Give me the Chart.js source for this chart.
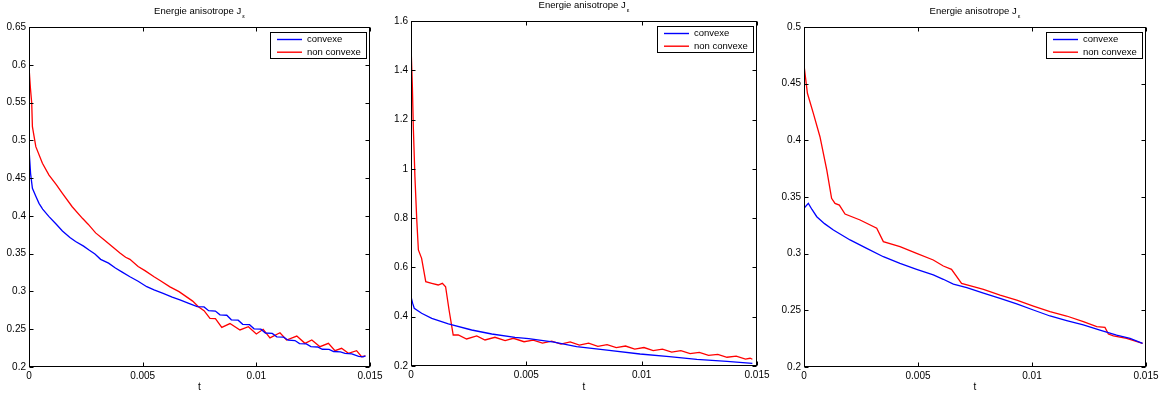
<!DOCTYPE html>
<html><head><meta charset="utf-8">
<script src="https://cdn.jsdelivr.net/npm/chart.js@4.4.0/dist/chart.umd.min.js"></script>
<style>
html,body{margin:0;padding:0;background:#fff;width:1159px;height:396px;overflow:hidden;position:relative}
canvas{position:absolute;top:0}
</style></head><body>
<canvas id="c1"></canvas><canvas id="c2"></canvas><canvas id="c3"></canvas>
<script>
// ---- data (t, J) ----
const seriesLabels = ['convexe', 'non convexe'];
const titleMain = 'Energie anisotrope J';
const titleSub = 'ε';
const xTitle = 't';
const xTicks = [0, 0.005, 0.01, 0.015];
const xTickLabels = ['0', '0.005', '0.01', '0.015'];

const yTicks1 = [0.2, 0.25, 0.3, 0.35, 0.4, 0.45, 0.5, 0.55, 0.6, 0.65];
const yTickLabels1 = ['0.2', '0.25', '0.3', '0.35', '0.4', '0.45', '0.5', '0.55', '0.6', '0.65'];
const yTicks2 = [0.2, 0.4, 0.6, 0.8, 1, 1.2, 1.4, 1.6];
const yTickLabels2 = ['0.2', '0.4', '0.6', '0.8', '1', '1.2', '1.4', '1.6'];
const yTicks3 = [0.2, 0.25, 0.3, 0.35, 0.4, 0.45, 0.5];
const yTickLabels3 = ['0.2', '0.25', '0.3', '0.35', '0.4', '0.45', '0.5'];

const convexe1 = [[0,0.489],[0.00007,0.456],[0.00015,0.4365],[0.0003,0.426],[0.00044,0.4166],[0.0006,0.409],[0.00088,0.399],[0.0012,0.389],[0.00147,0.380],[0.0018,0.3715],[0.00205,0.366],[0.0024,0.360],[0.00264,0.3548],[0.0029,0.3495],[0.00315,0.3425],[0.0035,0.3375],[0.0038,0.331],[0.0041,0.3255],[0.00444,0.3195],[0.0048,0.3135],[0.00518,0.3063],[0.0055,0.302],[0.0059,0.2975],[0.0063,0.2925],[0.00664,0.2887],[0.0070,0.2845],[0.0074,0.2798],[0.0077,0.2795],[0.0079,0.2745],[0.0082,0.2740],[0.0084,0.2690],[0.0087,0.2685],[0.0089,0.2625],[0.0092,0.2620],[0.0094,0.2565],[0.0097,0.2560],[0.0099,0.2505],[0.0102,0.2500],[0.0104,0.2450],[0.0107,0.2445],[0.0109,0.2400],[0.0112,0.2395],[0.0114,0.2355],[0.0117,0.2350],[0.0119,0.2310],[0.0122,0.2305],[0.0124,0.2270],[0.0127,0.2265],[0.0129,0.2235],[0.0132,0.2232],[0.0134,0.2205],[0.0137,0.2200],[0.0139,0.2180],[0.0142,0.2175],[0.0145,0.2140],[0.0147,0.2135],[0.0148,0.2146]];
const nonConvexe1 = [[0,0.5974],[0.00006,0.57],[0.00012,0.549],[0.00015,0.518],[0.0003,0.4916],[0.00059,0.4696],[0.00088,0.454],[0.0012,0.4415],[0.00147,0.4299],[0.0019,0.4121],[0.00235,0.3968],[0.0026,0.389],[0.00293,0.3775],[0.0033,0.3685],[0.00367,0.3592],[0.004,0.351],[0.00425,0.3452],[0.00444,0.3425],[0.0048,0.333],[0.0051,0.3275],[0.0055,0.3195],[0.0058,0.3138],[0.0062,0.306],[0.0066,0.2998],[0.0069,0.2935],[0.0072,0.2872],[0.00745,0.2798],[0.0077,0.2745],[0.00796,0.2644],[0.0082,0.264],[0.00848,0.2525],[0.00884,0.2575],[0.00928,0.249],[0.00965,0.2533],[0.01,0.2437],[0.0103,0.2499],[0.0106,0.2385],[0.01104,0.2454],[0.01133,0.2357],[0.01178,0.241],[0.01214,0.2313],[0.01244,0.2357],[0.0128,0.2269],[0.01317,0.2313],[0.01346,0.2216],[0.01375,0.2247],[0.01405,0.2181],[0.01441,0.2216],[0.01463,0.2136],[0.0148,0.2146]];

const convexe2 = [[0,0.4813],[0.00007,0.455],[0.00014,0.4342],[0.00046,0.4139],[0.0009,0.3936],[0.00162,0.3705],[0.00263,0.3461],[0.0035,0.3299],[0.00451,0.3164],[0.0051,0.311],[0.0062,0.2965],[0.00718,0.2783],[0.0085,0.264],[0.00993,0.2487],[0.0112,0.238],[0.01239,0.2272],[0.0137,0.219],[0.0148,0.211]];
const nonConvexe2 = [[0,1.503],[0.00006,1.333],[0.0001,1.171],[0.00017,0.968],[0.00025,0.7925],[0.00032,0.6708],[0.00046,0.637],[0.00064,0.542],[0.0009,0.5356],[0.00118,0.5287],[0.00136,0.5356],[0.0015,0.5218],[0.00165,0.4273],[0.00183,0.3258],[0.00205,0.3258],[0.00241,0.3096],[0.00285,0.3218],[0.00321,0.3055],[0.00364,0.3165],[0.00408,0.3027],[0.00444,0.3124],[0.0049,0.2985],[0.0053,0.305],[0.0057,0.293],[0.0061,0.301],[0.0065,0.289],[0.0069,0.2975],[0.0073,0.285],[0.0077,0.2925],[0.0081,0.28],[0.0085,0.287],[0.0089,0.2748],[0.0093,0.281],[0.0097,0.2686],[0.0101,0.275],[0.0105,0.2625],[0.0109,0.2685],[0.0113,0.2563],[0.0117,0.262],[0.0121,0.25],[0.0125,0.2555],[0.0129,0.243],[0.0133,0.2475],[0.0137,0.2355],[0.0141,0.24],[0.0145,0.228],[0.0147,0.2315],[0.0148,0.2275]];

const convexe3 = [[0,0.34],[0.00019,0.3444],[0.00035,0.339],[0.00056,0.3326],[0.0009,0.3265],[0.00129,0.3209],[0.00202,0.3121],[0.00275,0.3047],[0.00348,0.2973],[0.00421,0.2915],[0.00494,0.2862],[0.00567,0.2812],[0.00611,0.2774],[0.00655,0.2732],[0.00714,0.2701],[0.00787,0.2652],[0.0086,0.2606],[0.00933,0.2556],[0.01006,0.2503],[0.01079,0.245],[0.01152,0.2409],[0.01225,0.2371],[0.01298,0.2326],[0.01371,0.2282],[0.0143,0.2253],[0.01485,0.2209]];
const nonConvexe3 = [[0,0.4665],[0.00015,0.4415],[0.00041,0.4238],[0.0007,0.4032],[0.001,0.3738],[0.00121,0.3488],[0.00136,0.3444],[0.00155,0.3429],[0.0018,0.335],[0.00246,0.3297],[0.00319,0.3224],[0.00348,0.3106],[0.00421,0.3062],[0.00494,0.3003],[0.00567,0.2944],[0.00611,0.2891],[0.00647,0.2862],[0.00691,0.2738],[0.00743,0.2709],[0.00787,0.2685],[0.0086,0.2635],[0.00933,0.2591],[0.01006,0.2538],[0.01079,0.2488],[0.01152,0.245],[0.01225,0.24],[0.01284,0.2356],[0.0132,0.235],[0.01335,0.2291],[0.01357,0.2274],[0.01415,0.2253],[0.01485,0.2209]];

// ---- layout ----
const FONT = '"Liberation Sans", Arial, Helvetica, sans-serif';
const CW = 400, CH = 396;
const panels = [
  {id:'c1', conv:convexe1, nonc:nonConvexe1, yTicks:yTicks1, yLabels:yTickLabels1, yMin:0.2, yMax:0.65, g:{cl:0,   pl:29,  pr:370,  pt:27, pb:367}},
  {id:'c2', conv:convexe2, nonc:nonConvexe2, yTicks:yTicks2, yLabels:yTickLabels2, yMin:0.2, yMax:1.6,  g:{cl:385, pl:411, pr:757,  pt:21, pb:366}},
  {id:'c3', conv:convexe3, nonc:nonConvexe3, yTicks:yTicks3, yLabels:yTickLabels3, yMin:0.2, yMax:0.5,  g:{cl:775, pl:804, pr:1146, pt:27, pb:367}}
];

const matlabPlugin = {
  id: 'matlabDecor',
  afterDraw(chart) {
    const ctx = chart.ctx, a = chart.chartArea, xs = chart.scales.x, ys = chart.scales.y;
    ctx.save();
    ctx.strokeStyle = '#000'; ctx.lineWidth = 1;
    const L = Math.round(a.left) + 0.5, R = Math.round(a.right) - 0.5;
    const T = Math.round(a.top) + 0.5, B = Math.round(a.bottom) - 0.5;
    ctx.strokeRect(L, T, R - L, B - T);
    ctx.beginPath();
    xs.ticks.forEach(t => {
      const x = Math.round(xs.getPixelForValue(t.value)) + 0.5;
      ctx.moveTo(x, B); ctx.lineTo(x, B - 4);
      ctx.moveTo(x, T); ctx.lineTo(x, T + 4);
    });
    ys.ticks.forEach(t => {
      const y = Math.round(ys.getPixelForValue(t.value)) + 0.5;
      ctx.moveTo(L, y); ctx.lineTo(L + 4, y);
      ctx.moveTo(R, y); ctx.lineTo(R - 4, y);
    });
    ctx.stroke();

    // title with subscript
    ctx.fillStyle = '#000'; ctx.textAlign = 'left'; ctx.textBaseline = 'alphabetic';
    ctx.font = '9.5px ' + FONT;
    const w1 = ctx.measureText(titleMain).width;
    ctx.font = '6px ' + FONT;
    const w2 = ctx.measureText(titleSub).width;
    const cx = (a.left + a.right) / 2, x0 = cx - (w1 + w2 + 1) / 2, by = a.top - 13;
    ctx.font = '9.5px ' + FONT; ctx.fillText(titleMain, x0, by);
    ctx.font = '6px ' + FONT; ctx.fillText(titleSub, x0 + w1 + 1, by + 3.5);

    // legend box
    const bw = 96, bh = 26;
    const bx = Math.round(a.right) - 4 - bw, bt = Math.round(a.top) + 5;
    ctx.fillStyle = '#fff'; ctx.fillRect(bx, bt, bw, bh);
    ctx.strokeStyle = '#000'; ctx.lineWidth = 1; ctx.strokeRect(bx + 0.5, bt + 0.5, bw, bh);
    ctx.font = '9.5px ' + FONT; ctx.textBaseline = 'middle';
    chart.data.datasets.forEach((ds, i) => {
      const y = bt + 7.5 + i * 12.7;
      ctx.strokeStyle = ds.borderColor; ctx.lineWidth = 1.4;
      ctx.beginPath(); ctx.moveTo(bx + 7, y); ctx.lineTo(bx + 32, y); ctx.stroke();
      ctx.fillStyle = '#000'; ctx.fillText(ds.label, bx + 37, y);
    });
    ctx.restore();
  }
};

function makeChart(p) {
  const canvas = document.getElementById(p.id);
  canvas.width = CW; canvas.height = CH;
  canvas.style.left = p.g.cl + 'px';
  canvas.style.width = CW + 'px'; canvas.style.height = CH + 'px';
  const g = p.g;
  const tickFont = {family: FONT, size: 10};
  new Chart(canvas, {
    type: 'line',
    data: {datasets: [
      {label: seriesLabels[0], data: p.conv.map(([x, y]) => ({x, y})), borderColor: '#0000ff', borderWidth: 1.3, pointRadius: 0, tension: 0, fill: false},
      {label: seriesLabels[1], data: p.nonc.map(([x, y]) => ({x, y})), borderColor: '#ff0000', borderWidth: 1.3, pointRadius: 0, tension: 0, fill: false}
    ]},
    options: {
      responsive: false, animation: false, maintainAspectRatio: false,
      layout: {padding: {left: 0, top: g.pt, right: CW - (g.pr - g.cl), bottom: 0}},
      plugins: {legend: {display: false}, tooltip: {enabled: false}, title: {display: false}},
      scales: {
        x: {
          type: 'linear', min: 0, max: 0.015,
          afterBuildTicks: s => { s.ticks = xTicks.map(v => ({value: v})); },
          afterFit: s => { s.height = CH - g.pb; },
          grid: {display: false, drawTicks: false}, border: {display: false},
          ticks: {padding: 3, color: '#000', font: tickFont, autoSkip: false, maxRotation: 0,
                  callback: (v, i) => xTickLabels[i]},
          title: {display: true, text: xTitle, color: '#000', font: tickFont, padding: {top: 0, bottom: 3}}
        },
        y: {
          type: 'linear', min: p.yMin, max: p.yMax,
          afterBuildTicks: s => { s.ticks = p.yTicks.map(v => ({value: v})); },
          afterFit: s => { s.width = g.pl - g.cl; },
          grid: {display: false, drawTicks: false}, border: {display: false},
          ticks: {padding: 3, color: '#000', font: tickFont, autoSkip: false,
                  callback: (v, i) => p.yLabels[i]}
        }
      }
    },
    plugins: [matlabPlugin]
  });
}
panels.forEach(makeChart);
</script>
</body></html>
